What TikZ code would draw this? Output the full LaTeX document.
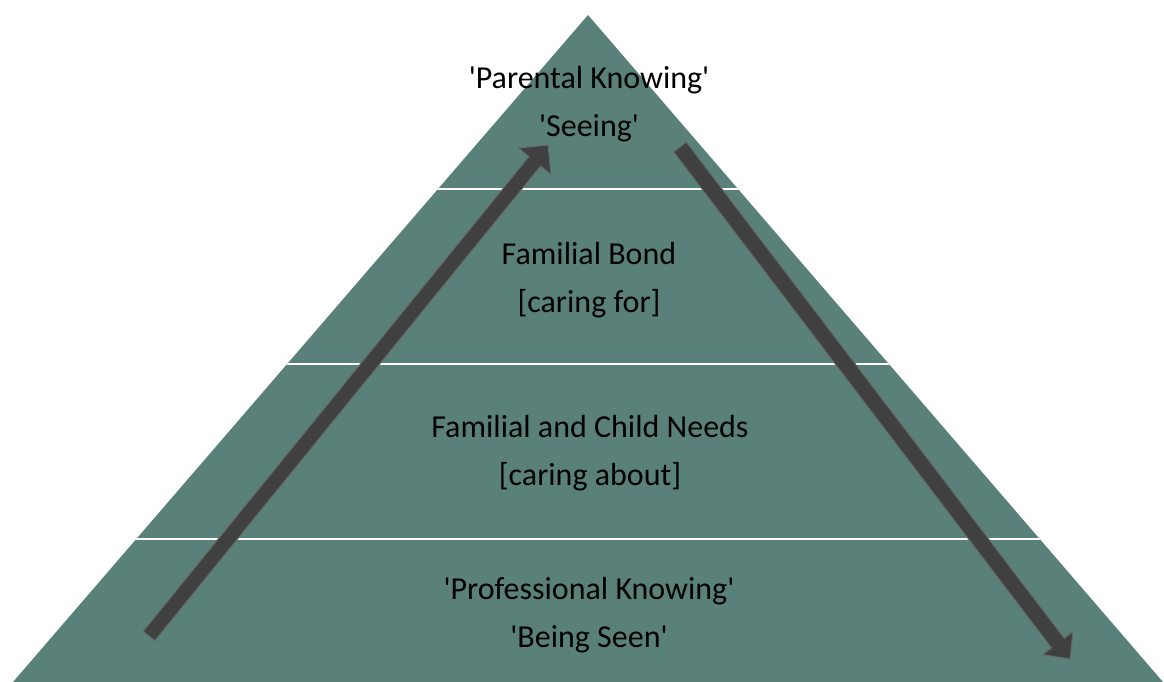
\documentclass[tikz,border=0pt]{standalone}
\usepackage{fontspec}
\setmainfont{Carlito}[Ligatures=TeXOff]
\usetikzlibrary{calc}
\definecolor{pyr}{RGB}{89,129,122}
\definecolor{arrowdark}{RGB}{64,64,64}
\definecolor{arrowedge}{RGB}{100,104,104}
\tikzset{
  pyramid/.style={fill=pyr, draw=none},
  divider/.style={draw=white, line width=2pt},
  arrowbody/.style={fill=arrowdark, draw=arrowedge, line width=1pt, line join=miter},
  lvltext/.style={align=center, text=black, font=\fontsize{32}{48}\selectfont, inner sep=0pt}
}
\begin{document}
\begin{tikzpicture}[x=1pt,y=-1pt]
\useasboundingbox (0,0) rectangle (1164,682);
% pyramid
\coordinate (apex) at (588,15);
\coordinate (bl) at (13,682);
\coordinate (br) at (1163,682);
\fill[pyramid] (apex) -- (bl) -- (br) -- cycle;
\begin{scope}
  \clip (apex) -- (bl) -- (br) -- cycle;
  \coordinate (d1l) at (0,188.5); \coordinate (d1r) at (1164,188.5);
  \coordinate (d2l) at (0,363.5); \coordinate (d2r) at (1164,363.5);
  \coordinate (d3l) at (0,538.5); \coordinate (d3r) at (1164,538.5);
  \draw[divider] (d1l) -- (d1r);
  \draw[divider] (d2l) -- (d2r);
  \draw[divider] (d3l) -- (d3r);
\end{scope}
% texts
\node[lvltext] (t1) at (589,104) {'Parental Knowing'\\'Seeing'};
\node[lvltext] (t2) at (589,280) {Familial Bond\\{[}caring for{]}};
\node[lvltext] (t3) at (590,453) {Familial and Child Needs\\{[}caring about{]}};
\node[lvltext] (t4) at (589,615) {'Professional Knowing'\\'Being Seen'};
% up arrow
\coordinate (ua) at (149,636);
\coordinate (ub) at (548,145);
\coordinate (uc) at ($(ub)!21pt!(ua)$);
\filldraw[arrowbody] ($(ua)!7.5pt!90:(ub)$) -- ($(uc)!7.5pt!90:(ub)$) -- ($(uc)!21pt!90:(ub)$) -- (ub) -- ($(uc)!21pt!-90:(ub)$) -- ($(uc)!7.5pt!-90:(ub)$) -- ($(ua)!7.5pt!-90:(ub)$) -- cycle;
% down arrow
\coordinate (da) at (680,147);
\coordinate (db) at (1070,659);
\coordinate (dc) at ($(db)!20pt!(da)$);
\filldraw[arrowbody] ($(da)!8pt!90:(db)$) -- ($(dc)!8pt!90:(db)$) -- ($(dc)!19pt!90:(db)$) -- (db) -- ($(dc)!19pt!-90:(db)$) -- ($(dc)!8pt!-90:(db)$) -- ($(da)!8pt!-90:(db)$) -- cycle;
\end{tikzpicture}
\end{document}
